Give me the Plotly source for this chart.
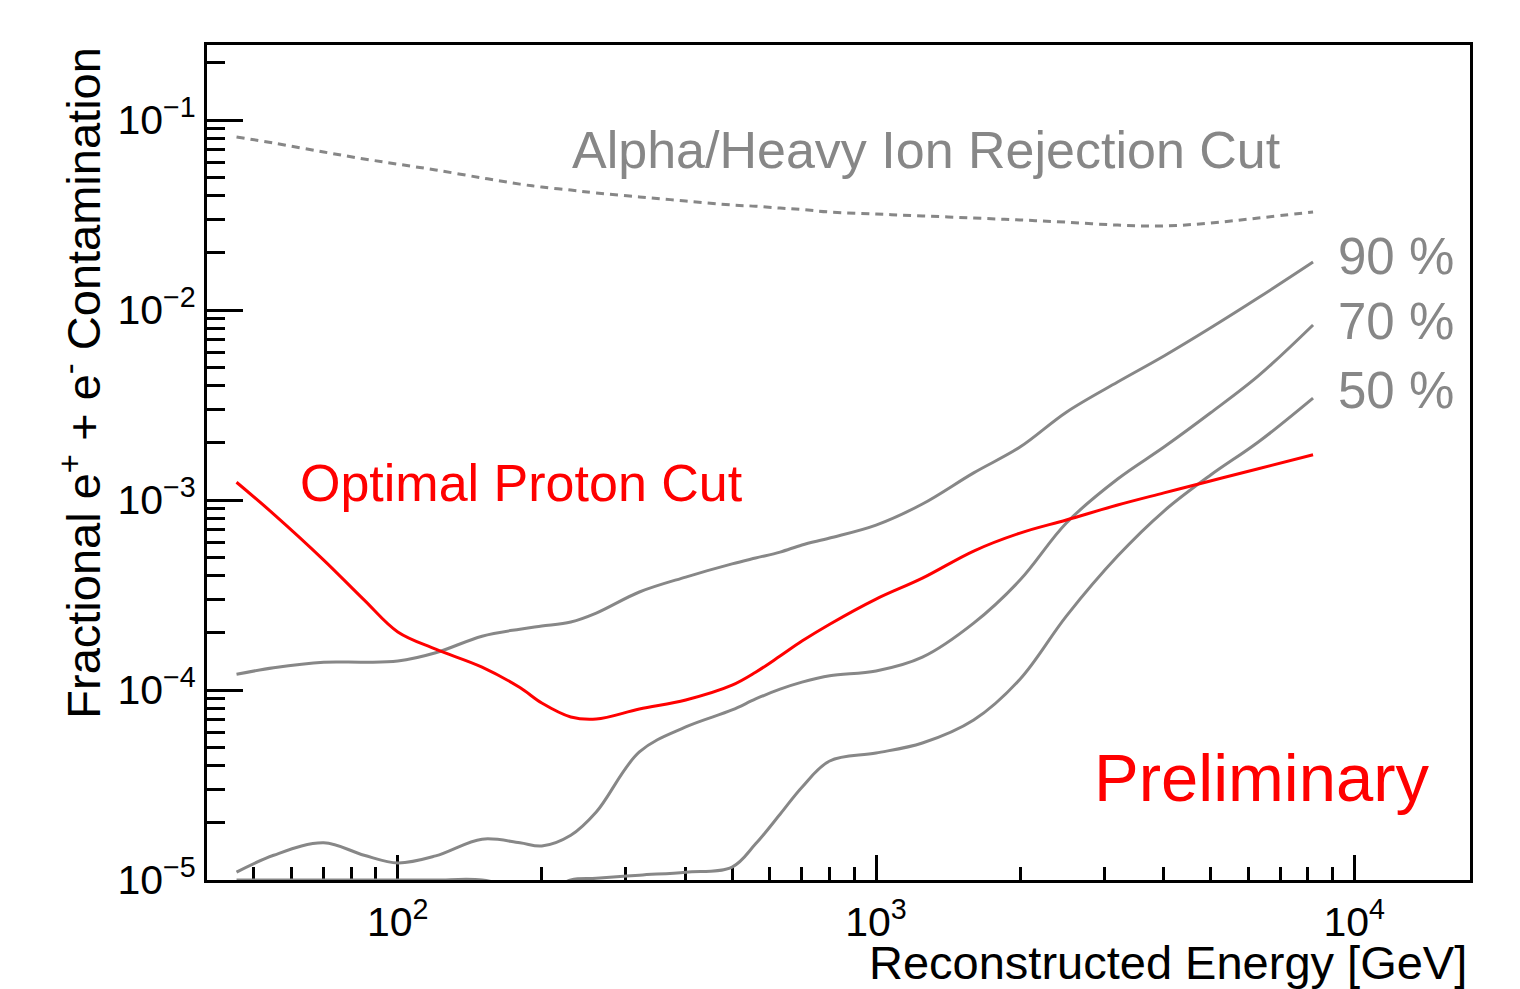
import plotly.graph_objects as go

# ---- data ----
energy_gev = [46, 55, 70, 85, 100, 120, 150, 180, 200, 230, 260, 320, 400, 500, 560,
              630, 700, 800, 1000, 1250, 1600, 2000, 2500, 3200, 4000, 5000, 6300, 8200]

alpha_cut = [0.0815, 0.0757, 0.0679, 0.0624, 0.0586, 0.0546, 0.0496, 0.0460, 0.0444, 0.0428,
             0.0413, 0.0394, 0.0375, 0.0357, 0.0352, 0.0344, 0.0338, 0.0328, 0.0320, 0.0313,
             0.0305, 0.0298, 0.0290, 0.0280, 0.0277, 0.0287, 0.0305, 0.0328]

eff90 = [1.21e-4, 1.31e-4, 1.40e-4, 1.40e-4, 1.42e-4, 1.57e-4, 1.92e-4, 2.09e-4, 2.17e-4, 2.28e-4,
         2.54e-4, 3.28e-4, 3.93e-4, 4.61e-4, 4.95e-4, 5.32e-4, 5.80e-4, 6.31e-4, 7.38e-4, 9.53e-4,
         1.39e-3, 1.90e-3, 2.90e-3, 4.18e-3, 5.73e-3, 8.04e-3, 1.16e-2, 1.79e-2]

eff70 = [1.10e-5, 1.35e-5, 1.57e-5, 1.35e-5, 1.23e-5, 1.34e-5, 1.64e-5, 1.57e-5, 1.51e-5, 1.72e-5,
         2.28e-5, 4.72e-5, 6.39e-5, 7.85e-5, 8.97e-5, 1.01e-4, 1.10e-4, 1.19e-4, 1.26e-4, 1.49e-4,
         2.25e-4, 3.79e-4, 7.57e-4, 1.29e-3, 1.90e-3, 2.87e-3, 4.50e-3, 8.34e-3]

eff50 = [1.0e-5, 1.0e-5, 1.0e-5, 1.0e-5, 1.0e-5, 1.0e-5, 1.0e-5, 9.0e-6, 8.5e-6, 1.0e-5,
         1.02e-5, 1.06e-5, 1.10e-5, 1.17e-5, 1.55e-5, 2.22e-5, 3.08e-5, 4.23e-5, 4.66e-5, 5.26e-5,
         6.95e-5, 1.14e-4, 2.45e-4, 5.07e-4, 8.75e-4, 1.35e-3, 2.02e-3, 3.44e-3]

proton_cut = [1.24e-3, 8.43e-4, 4.83e-4, 2.98e-4, 2.02e-4, 1.64e-4, 1.32e-4, 1.03e-4, 8.54e-5, 7.21e-5,
              7.03e-5, 7.94e-5, 8.86e-5, 1.06e-4, 1.24e-4, 1.51e-4, 1.81e-4, 2.22e-4, 3.01e-4, 3.88e-4,
              5.39e-4, 6.70e-4, 7.85e-4, 9.41e-4, 1.09e-3, 1.26e-3, 1.46e-3, 1.73e-3]

x_major = [100, 1000, 10000]
x_major_text = ["10<sup>2</sup>", "10<sup>3</sup>", "10<sup>4</sup>"]
x_minor = [m * d for d in (10, 100, 1000) for m in range(2, 10) if 40 < m * d < 17400]
y_major = [1e-5, 1e-4, 1e-3, 1e-2, 1e-1]
y_major_text = ["10<sup>\u22125</sup>", "10<sup>\u22124</sup>", "10<sup>\u22123</sup>",
                "10<sup>\u22122</sup>", "10<sup>\u22121</sup>"]
y_minor = [m * d for d in (1e-5, 1e-4, 1e-3, 1e-2, 1e-1) for m in range(2, 10) if m * d < 0.25]

GREY = "#878787"
RED = "#ff0000"
FONT = "Liberation Sans"

fig = go.Figure()
line_kw = dict(shape="spline", smoothing=1.0)
fig.add_trace(go.Scatter(x=energy_gev, y=alpha_cut, mode="lines",
                         line=dict(color=GREY, width=3, dash="8px,6px", **line_kw)))
for series in (eff90, eff70, eff50):
    fig.add_trace(go.Scatter(x=energy_gev, y=series, mode="lines",
                             line=dict(color=GREY, width=3, **line_kw)))
fig.add_trace(go.Scatter(x=energy_gev, y=proton_cut, mode="lines",
                         line=dict(color=RED, width=3, **line_kw)))

axis_common = dict(showgrid=False, zeroline=False, showline=True, linecolor="black",
                   linewidth=3, mirror=True, ticks="inside", tickwidth=2.5, tickcolor="black",
                   tickfont=dict(family=FONT, size=41, color="black"), layer="below traces")

fig.update_xaxes(type="log", range=[1.601, 4.242], tickmode="array", tickvals=x_major,
                 ticktext=x_major_text, ticklen=25, ticklabelstandoff=4,
                 minor=dict(tickmode="array", tickvals=x_minor, ticks="inside", ticklen=13,
                            tickwidth=2.5, tickcolor="black"),
                 **axis_common)
fig.update_yaxes(type="log", range=[-5, -0.605], tickmode="array", tickvals=y_major,
                 ticktext=y_major_text, ticklen=36,
                 minor=dict(tickmode="array", tickvals=y_minor, ticks="inside", ticklen=18,
                            tickwidth=2.5, tickcolor="black"),
                 **axis_common)

def note(text, x, y, color, size, xanchor="left", yanchor="middle", angle=0):
    fig.add_annotation(text=text, x=x, y=y, xref="paper", yref="paper", showarrow=False,
                       xanchor=xanchor, yanchor=yanchor, textangle=angle,
                       font=dict(family=FONT, size=size, color=color))

note("Alpha/Heavy Ion Rejection Cut", 0.2872, 0.8743, GREY, 52)
note("90 %", 0.894, 0.7473, GREY, 51)
note("70 %", 0.894, 0.6683, GREY, 51)
note("50 %", 0.894, 0.5868, GREY, 51)
note("Optimal Proton Cut", 0.072, 0.4754, RED, 52)
note("Preliminary", 0.701, 0.1222, RED, 67)
note("Reconstructed Energy [GeV]", 0.9992, -0.0994, "black", 47, xanchor="right")
note("Fractional e<sup>+</sup> + e<sup>-</sup> Contamination", -0.1, 1.0, "black", 47,
     xanchor="center", yanchor="top", angle=-90)

fig.update_layout(width=1512, height=981, margin=dict(l=199, r=50, t=37, b=109),
                  paper_bgcolor="white", plot_bgcolor="white", showlegend=False)

fig.write_html("out.html")
